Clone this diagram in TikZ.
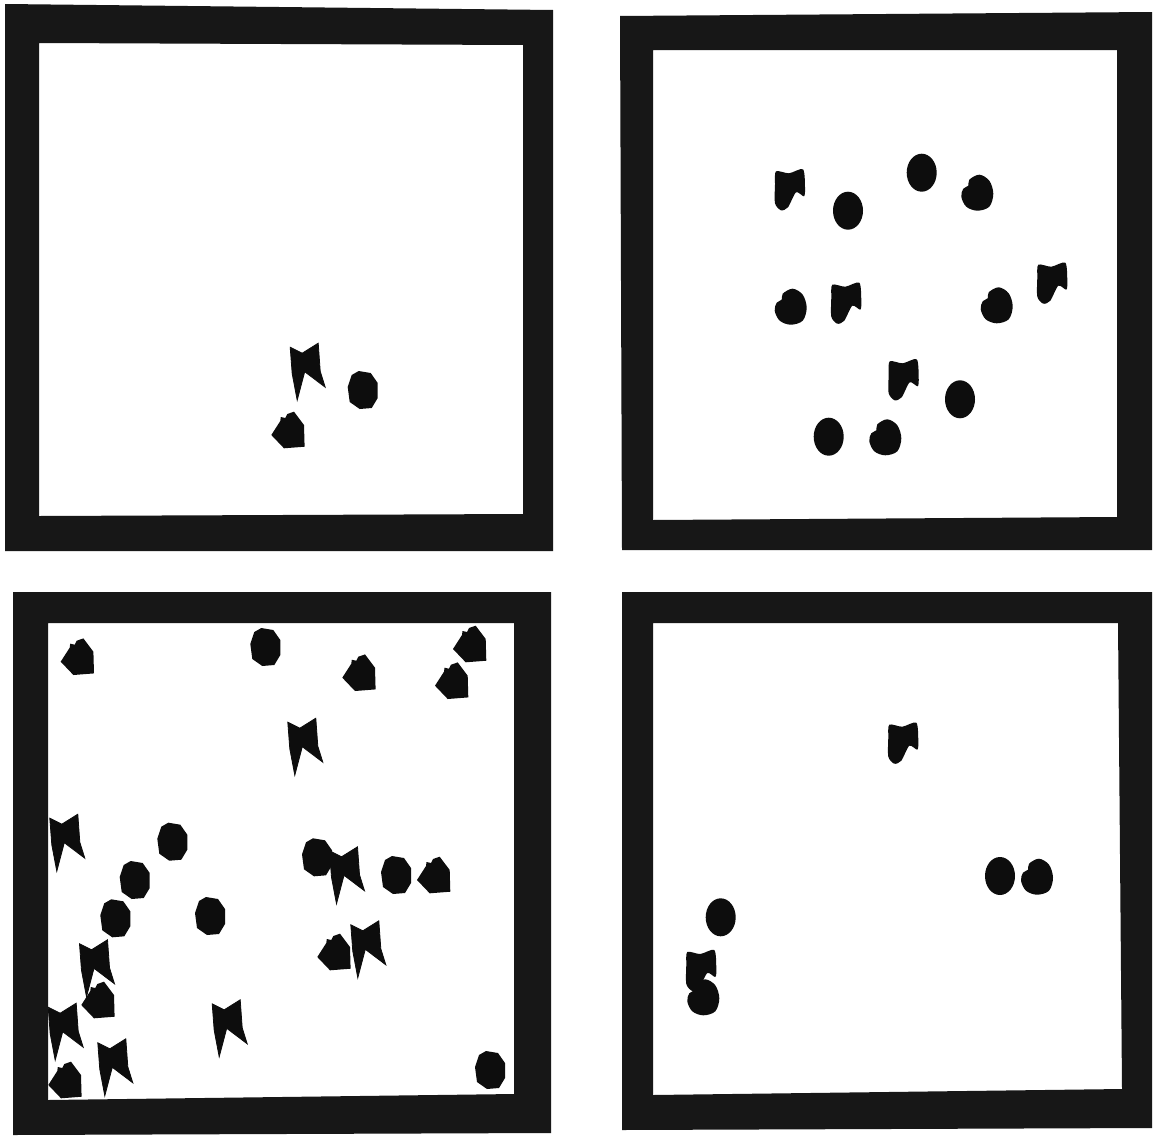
\documentclass[tikz,border=0pt]{standalone}
\begin{document}
\begin{tikzpicture}[x=1pt,y=-1pt,
  shp/.style={fill=black!95},
  frm/.style={fill=black!91,even odd rule},
  flag/.pic={\filldraw[shp,draw=black!95,line width=0.8pt,line join=miter] (-17.5,-24.5)--(-5.5,-18.5)--(10.5,-28.5)--(12.5,-0.5)--(17.5,15.5)--(-3,0)--(-10.5,28.5)--(-15.5,2)--cycle;},
  octa/.pic={\fill[shp] (-4,-19)--(8,-17)--(15,-7)--(15,8)--(9,18)--(-3,19)--(-13,12)--(-15,-3)--(-11,-15)--cycle;},
  chick/.pic={\fill[shp] (-17,5)--(-8,-9)--(-7.5,-13)--(-3,-12)--(-1,-16)--(5.7,-18.3)--(15.7,-5)--(16.3,16.7)--(-4.3,18.3)--cycle;},
  fsh/.pic={\fill[shp] plot[smooth cycle,tension=0.45] coordinates {(-14,-18) (-1,-16) (13,-20) (15,-2) (14,7) (6,3) (-2,18) (-9,21) (-15,14) (-15,-5)};},
  oval/.pic={\fill[shp] (0,0) ellipse [x radius=15,y radius=19];},
  rchick/.pic={\fill[shp] plot[smooth cycle,tension=0.55] coordinates {(-8,-13) (2,-18) (12,-12) (16,1) (12,14) (0,18) (-11,14) (-16,4) (-14,-4) (-9,-7)};}
]
\useasboundingbox (0,0) rectangle (1153,1135);
\fill[white] (0,0) rectangle (1153,1135);

% ---- top-left panel
\pic (tl1) at (307.7,371.7) {flag};
\pic (tl2) at (362.7,390) {octa};
\pic (tl3) at (288.3,430) {chick};

% ---- top-right panel
\pic (tr1) at (790,189.3) {fsh};
\pic (tr2) at (848,210.7) {oval};
\pic (tr3) at (921.7,172.7) {oval};
\pic (tr4) at (977.3,192.7) {rchick};
\pic (tr5) at (790.7,306.7) {rchick};
\pic (tr6) at (846.3,302.7) {fsh};
\pic (tr7) at (996.7,305.3) {rchick};
\pic (tr8) at (1052.3,282.7) {fsh};
\pic (tr9) at (903.7,379.3) {fsh};
\pic (tr10) at (960,399.3) {oval};
\pic (tr11) at (828.7,436.7) {oval};
\pic (tr12) at (885.3,437.3) {rchick};

% ---- bottom-left panel
\pic (bl1) at (77.7,656.7) {chick};
\pic (bl2) at (265.3,647) {octa};
\pic (bl3) at (359.3,672.7) {chick};
\pic (bl4) at (470,644) {chick};
\pic (bl5) at (452,680.7) {chick};
\pic (bl6) at (305.3,746.7) {flag};
\pic (bl7) at (67.3,842.7) {flag};
\pic (bl8) at (172.3,841.7) {octa};
\pic (bl9) at (134.7,880) {octa};
\pic (bl10) at (115.3,918.3) {octa};
\pic (bl11) at (210,916) {octa};
\pic (bl12) at (317,857.3) {octa};
\pic (bl13) at (347,875.3) {flag};
\pic (bl14) at (396,875) {octa};
\pic (bl15) at (434,875) {chick};
\pic (bl16) at (334.3,952) {chick};
\pic (bl17) at (368.3,949.3) {flag};
\pic (bl18) at (97,968.3) {flag};
\pic (bl19) at (98.3,1000) {chick};
\pic (bl20) at (65.7,1031.7) {flag};
\pic (bl21) at (229.7,1028.3) {flag};
\pic (bl22) at (115.3,1067.3) {flag};
\pic (bl23) at (65.3,1080) {chick};
\pic (bl24) at (490,1070) {octa};

% ---- bottom-right panel
\pic (br1) at (903.3,742.7) {fsh};
\pic (br2) at (1000,876) {oval};
\pic (br3) at (1037,876.7) {rchick};
\pic (br4) at (720.7,917.3) {oval};
\pic (br5) at (701.3,970) {fsh};
\pic (br6) at (703.3,997.3) {rchick};

% ---- frames
\fill[frm] (5,4)--(553,10)--(553,551)--(5,551)--cycle
  (39,43)--(523,45)--(523,514)--(39,516)--cycle;
\fill[frm] (620,16)--(1152,12)--(1152,550)--(622,550)--cycle
  (653,50)--(1117,50)--(1117,517)--(653,520)--cycle;
\fill[frm] (13,592)--(551,592)--(551,1133)--(13,1135)--cycle
  (48,623)--(514,623)--(514,1094)--(48,1100)--cycle;
\fill[frm] (622,592)--(1152,592)--(1152,1128)--(622,1130)--cycle
  (653,623)--(1118,623)--(1122,1089)--(653,1095)--cycle;
\end{tikzpicture}
\end{document}
